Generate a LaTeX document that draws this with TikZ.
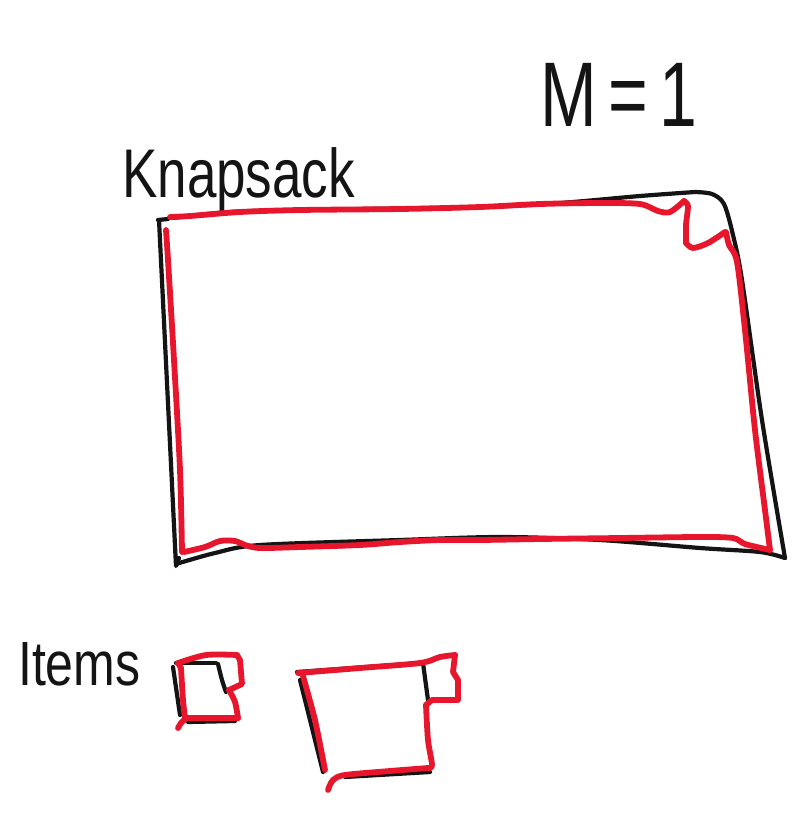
\documentclass[tikz,border=0pt]{standalone}
\usepackage{fontspec}
\setmainfont{Liberation Sans}
\definecolor{penred}{RGB}{232,22,44}
\definecolor{penblack}{RGB}{20,20,20}
\tikzset{
  ink/.style={draw=penblack,line width=4.2pt,line cap=round,line join=round},
  redink/.style={draw=penred,line width=5.8pt,line cap=round,line join=round},
  label/.style={text=penblack,inner sep=0pt,anchor=west},
}
\begin{document}
\begin{tikzpicture}[x=1pt,y=-1pt]
\useasboundingbox[fill=white] (0,0) rectangle (795,815);

% texts
\node[label,font=\fontsize{68}{68}\selectfont,yscale=1.35] (mtitle) at (540,95) {M\,=\,1};
\node[label,font=\fontsize{53}{53}\selectfont,yscale=1.3] (knap) at (122,180) {Knapsack};
\node[label,font=\fontsize{50}{50}\selectfont,yscale=1.25] (items) at (18,664) {Items};

% knapsack, black outline
\draw[ink] (158,220) -- (168,219);
\draw[ink] (159,220) -- (176,566) -- (179,558);
\draw[ink] plot[smooth,tension=0.5] coordinates {(176,564) (215,553) (260,545) (400,540) (500,537) (600,540) (700,548) (760,552) (785,558)};
\draw[ink] plot[smooth,tension=0.5] coordinates {(785,558) (762,420) (742,280) (733,235) (724,204) (712,194) (695,192)};
\draw[ink] plot[smooth,tension=0.5] coordinates {(695,192) (640,196) (560,203) (480,207) (300,210) (230,212) (172,218)};

% knapsack, red outline
\draw[redink] plot[smooth,tension=0.5] coordinates {(170,217) (190,216) (240,212) (300,210) (400,209) (480,207) (540,204) (600,203) (640,204) (658,211) (670,212) (684,201)};
\draw[redink] plot[smooth,tension=0.4] coordinates {(684,201) (688,206) (686,225) (686,243)};
\draw[redink] plot[smooth,tension=0.5] coordinates {(686,243) (693,248) (708,243) (725,232)};
\draw[redink] plot[smooth,tension=0.5] coordinates {(726,232) (729,245) (737,262) (745,330) (755,430) (765,510) (770,550)};
\draw[redink] plot[smooth,tension=0.5] coordinates {(770,550) (745,544) (733,538) (700,537) (620,538) (540,539) (480,540) (440,540) (400,542) (360,545) (300,547) (260,548) (245,545) (235,541) (220,541) (205,547) (184,552)};
\draw[redink] plot[smooth,tension=0.5] coordinates {(182,552) (180,470) (174,360) (168,260) (166,230)};

% small item, black
\draw[ink] (173,667) -- (180,715);
\draw[ink] (176,663) -- (216,663);
\draw[ink] plot[smooth,tension=0.5] coordinates {(218,664) (222,680) (226,692)};
\draw[ink] (188,722) -- (235,721);
% small item, red
\draw[redink] plot[smooth,tension=0.4] coordinates {(181,668) (183,700) (185,718)};
\draw[redink] (185,718) -- (238,718);
\draw[redink] plot[smooth,tension=0.5] coordinates {(238,718) (235,702) (229,690)};
\draw[redink] (229,690) -- (242,684) -- (240,660) -- (237,655);
\draw[redink] plot[smooth,tension=0.5] coordinates {(237,655) (206,655) (178,663)};
\draw[redink] (178,663) -- (181,668);
\draw[redink] plot[smooth,tension=0.5] coordinates {(185,719) (181,723) (178,728)};

% big item, black
\draw[ink] (297,672) -- (423,663);
\draw[ink] (423,663) -- (428,700);
\draw[ink] (300,680) -- (323,772);
\draw[ink] (345,777) -- (430,772);
% big item, red
\draw[redink] plot[smooth,tension=0.4] coordinates {(303,676) (315,720) (325,770)};
\draw[redink] plot[smooth,tension=0.5] coordinates {(298,673) (360,668) (420,663) (440,657) (455,655)};
\draw[redink] (455,655) -- (453,672) -- (458,680) -- (458,700) -- (432,700) -- (426,705);
\draw[redink] plot[smooth,tension=0.5] coordinates {(426,705) (428,740) (432,765) (428,768)};
\draw[redink] plot[smooth,tension=0.5] coordinates {(428,768) (390,771) (345,775) (333,780) (328,790)};
\end{tikzpicture}
\end{document}
